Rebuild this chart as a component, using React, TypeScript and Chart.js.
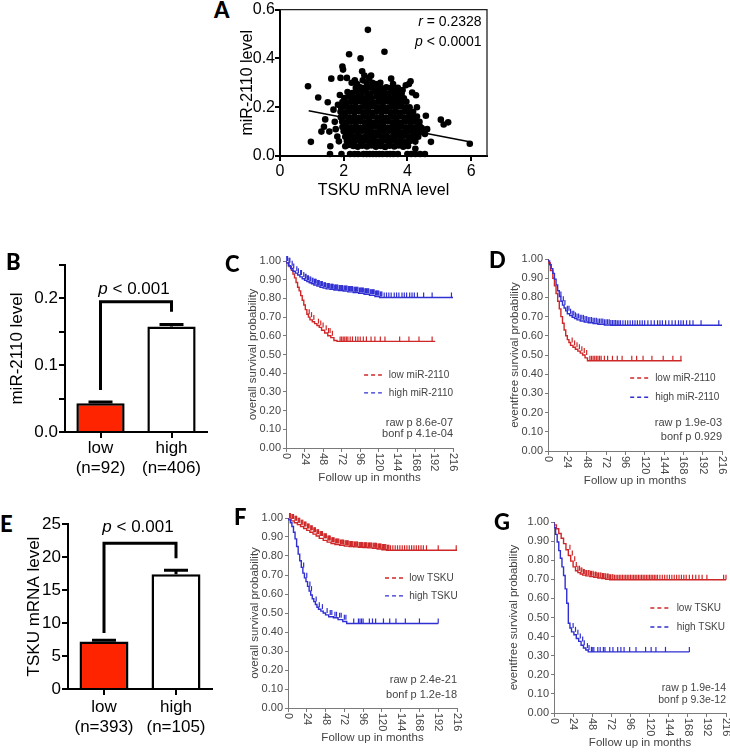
import React, { useEffect, useRef } from 'react';
import { Chart, registerables } from 'chart.js';
Chart.register(...registerables);

const FONT = '"Liberation Sans", Arial, sans-serif';
const LETTER_FONT = 'Lato, "Open Sans", sans-serif';

// ---------------- Panel A data ----------------
const scatterPts: [number, number][] = [
  [2.38,0.279],[2.52,0.282],[2.66,0.278],[2.8,0.283],[2.93,0.279],[3.07,0.281],[3.2,0.277],[3.34,0.282],[3.48,0.278],[3.6,0.272],
  [2.12,0.262],[2.27,0.258],[2.41,0.263],[2.55,0.259],[2.7,0.262],[2.84,0.257],[2.98,0.263],[3.12,0.259],[3.27,0.261],[3.41,0.257],[3.55,0.262],[3.7,0.258],[3.82,0.255],
  [2.02,0.238],[2.16,0.243],[2.3,0.239],[2.45,0.242],[2.6,0.237],[2.74,0.241],[2.88,0.238],[3.03,0.243],[3.17,0.239],[3.31,0.241],[3.46,0.237],[3.6,0.242],[3.75,0.238],[3.89,0.236],
  [1.96,0.221],[2.1,0.218],[2.24,0.222],[2.38,0.219],[2.53,0.223],[2.67,0.218],[2.81,0.221],[2.96,0.217],[3.1,0.222],[3.24,0.219],[3.39,0.223],[3.53,0.218],[3.67,0.221],[3.82,0.217],[3.97,0.222],
  [1.92,0.199],[2.06,0.202],[2.2,0.198],[2.35,0.201],[2.49,0.197],[2.63,0.202],[2.78,0.199],[2.92,0.203],[3.06,0.198],[3.21,0.201],[3.35,0.197],[3.49,0.202],[3.64,0.199],[3.78,0.203],[3.93,0.198],[4.07,0.2],
  [1.9,0.181],[2.04,0.178],[2.18,0.182],[2.33,0.179],[2.47,0.183],[2.61,0.178],[2.75,0.181],[2.9,0.177],[3.04,0.182],[3.18,0.179],[3.33,0.183],[3.47,0.178],[3.61,0.181],[3.76,0.177],[3.9,0.182],[4.04,0.179],[4.18,0.181],
  [1.91,0.159],[2.05,0.162],[2.19,0.158],[2.34,0.161],[2.48,0.157],[2.62,0.162],[2.77,0.159],[2.91,0.163],[3.05,0.158],[3.2,0.161],[3.34,0.157],[3.48,0.162],[3.63,0.159],[3.77,0.163],[3.91,0.158],[4.06,0.161],[4.2,0.157],[4.3,0.162],
  [1.95,0.141],[2.09,0.138],[2.23,0.142],[2.38,0.139],[2.52,0.143],[2.66,0.138],[2.81,0.141],[2.95,0.137],[3.09,0.142],[3.24,0.139],[3.38,0.143],[3.52,0.138],[3.67,0.141],[3.81,0.137],[3.95,0.142],[4.1,0.139],[4.24,0.141],[4.35,0.137],
  [1.96,0.119],[2.1,0.122],[2.25,0.118],[2.39,0.121],[2.53,0.117],[2.68,0.122],[2.82,0.119],[2.96,0.123],[3.11,0.118],[3.25,0.121],[3.39,0.117],[3.54,0.122],[3.68,0.119],[3.82,0.123],[3.97,0.118],[4.11,0.121],[4.25,0.117],[4.39,0.122],
  [2.0,0.101],[2.14,0.098],[2.28,0.102],[2.43,0.099],[2.57,0.103],[2.71,0.098],[2.86,0.101],[3.0,0.097],[3.14,0.102],[3.29,0.099],[3.43,0.103],[3.57,0.098],[3.72,0.101],[3.86,0.097],[4.0,0.102],[4.15,0.099],[4.29,0.101],[4.44,0.098],
  [2.05,0.079],[2.19,0.082],[2.33,0.078],[2.48,0.081],[2.62,0.077],[2.76,0.082],[2.91,0.079],[3.05,0.083],[3.19,0.078],[3.34,0.081],[3.48,0.077],[3.62,0.082],[3.77,0.079],[3.91,0.083],[4.05,0.078],[4.2,0.081],[4.34,0.079],
  [2.1,0.061],[2.24,0.058],[2.38,0.062],[2.53,0.059],[2.67,0.063],[2.81,0.058],[2.96,0.061],[3.1,0.057],[3.24,0.062],[3.39,0.059],[3.53,0.063],[3.67,0.058],[3.82,0.061],[3.96,0.057],[4.1,0.062],[4.25,0.059],
  [2.3,0.041],[2.44,0.038],[2.58,0.042],[2.73,0.039],[2.87,0.043],[3.01,0.038],[3.16,0.041],[3.3,0.037],[3.44,0.042],[3.59,0.039],[3.73,0.043],[3.87,0.038],[4.02,0.041],
  [1.57,0.008],[1.93,0.008],[2.2,0.008],[2.34,0.008],[2.45,0.008],[2.62,0.008],[2.72,0.008],[2.82,0.008],[2.92,0.008],[3.02,0.008],[3.12,0.008],[3.22,0.008],[3.36,0.008],[3.46,0.008],[3.56,0.008],[3.7,0.008],[4.0,0.008],[4.12,0.008],[4.25,0.008],[4.4,0.008],[4.55,0.008],
  [0.88,0.286],[0.97,0.058],[1.2,0.24],[1.3,0.1],[1.38,0.12],[1.42,0.15],[1.5,0.22],[1.55,0.1],[1.58,0.04],[1.61,0.317],[1.68,0.19],[1.72,0.14],[1.75,0.11],[1.8,0.08],[1.82,0.21],[1.85,0.06],[1.88,0.25],[1.9,0.32],[1.96,0.367],[1.98,0.354],[2.1,0.32],[2.17,0.417],[2.25,0.3],[2.35,0.31],[2.42,0.295],[2.53,0.40],[2.58,0.347],[2.6,0.31],[2.65,0.33],[2.72,0.30],[2.76,0.517],[2.8,0.32],[2.86,0.33],[2.9,0.30],[3.0,0.295],[3.15,0.3],[3.28,0.427],[3.49,0.317],[3.55,0.295],[3.7,0.28],[3.85,0.27],[3.95,0.29],[4.05,0.295],[4.1,0.306],[4.15,0.26],[4.27,0.249],[4.3,0.2],[4.38,0.14],[4.45,0.115],[4.58,0.165],[4.55,0.09],[4.74,0.058],[4.62,0.11],[4.25,0.03],[5.05,0.149],[5.14,0.129],[5.28,0.138],[5.96,0.05],[2.15,0.045],[2.05,0.04]
];
const regLine: [number, number][] = [[0.9, 0.185], [5.95, 0.058]];
const aYTickLabels = ['0.0', '0.2', '0.4', '0.6'];
const aXTickLabels = ['0', '2', '4', '6'];
const aStats = { r: '0.2328', p: '0.0001' };

// ---------------- Panel B / E data ----------------
const bCategories = [['low', '(n=92)'], ['high', '(n=406)']];
const bMeans = [0.043, 0.158];
const bErrors = [0.002, 0.003];
const bYTickLabels = ['0.0', '0.1', '0.2'];
const bBracket = { top: 0.195, leftEnd: 0.063, rightEnd: 0.18, textY: 0.213 };

const eCategories = [['low', '(n=393)'], ['high', '(n=105)']];
const eMeans = [7.2, 17.4];
const eErrors = [0.2, 0.6];
const eYTickLabels = ['0', '5', '10', '15', '20', '25'];
const eBracket = { top: 22.1, leftEnd: 8.5, rightEnd: 19.8, textY: 24.5 };
const pLabel = '0.001';

// ---------------- Kaplan-Meier data ----------------
const kmXTickLabels = ['0', '24', '48', '72', '96', '120', '144', '168', '192', '216'];
const kmYTickLabels = ['0.00', '0.10', '0.20', '0.30', '0.40', '0.50', '0.60', '0.70', '0.80', '0.90', '1.00'];

// C: overall survival, miR-2110
const cLowT = [0, 4, 7, 9, 11, 13, 15, 17, 19, 21, 23, 25, 27, 29, 31, 34, 37, 40, 43, 46, 50, 54, 58, 62, 66, 68, 193];
const cLowS = [1.0, 0.99, 0.97, 0.95, 0.93, 0.91, 0.885, 0.86, 0.84, 0.815, 0.79, 0.765, 0.74, 0.715, 0.7, 0.685, 0.675, 0.665, 0.655, 0.645, 0.63, 0.615, 0.6, 0.59, 0.575, 0.57, 0.57];
const cLowCens = [30, 33, 36, 42, 45, 48, 52, 55, 57, 60, 70, 72, 74, 76, 78, 80, 83, 86, 90, 93, 96, 100, 104, 110, 115, 122, 128, 147, 159, 172, 189];
const cHighT = [0, 3, 6, 9, 12, 15, 18, 21, 24, 27, 30, 33, 36, 40, 44, 48, 52, 57, 62, 68, 74, 80, 87, 94, 101, 108, 115, 121, 126, 216];
const cHighS = [1.0, 0.99, 0.975, 0.96, 0.945, 0.935, 0.925, 0.915, 0.905, 0.897, 0.89, 0.884, 0.878, 0.872, 0.866, 0.86, 0.855, 0.851, 0.848, 0.845, 0.842, 0.839, 0.835, 0.831, 0.827, 0.822, 0.816, 0.81, 0.805, 0.805];
const cHighCens = [1, 2, 4, 5, 8, 10, 14, 16, 19, 20, 23, 25, 26, 28, 29, 31, 32, 34, 35, 37, 38, 39, 41, 42, 43, 45, 46, 47, 49, 50, 51, 53, 54, 55, 56, 58, 59, 60, 61, 63, 64, 65, 66, 67, 69, 70, 71, 72, 73, 75, 76, 77, 78, 79, 81, 82, 83, 84, 85, 86, 88, 89, 90, 91, 92, 93, 95, 96, 97, 98, 99, 100, 102, 103, 104, 105, 106, 107, 109, 110, 111, 112, 113, 114, 116, 117, 118, 119, 120, 122, 123, 124, 127, 130, 133, 136, 140, 143, 146, 150, 153, 156, 160, 163, 166, 170, 178, 189, 214];

// D: eventfree survival, miR-2110
const dLowT = [0, 3, 6, 8, 10, 12, 14, 16, 18, 20, 22, 24, 26, 28, 31, 34, 37, 40, 43, 46, 49, 51, 166];
const dLowS = [1.0, 0.98, 0.94, 0.9, 0.86, 0.82, 0.78, 0.74, 0.7, 0.665, 0.63, 0.6, 0.58, 0.565, 0.55, 0.54, 0.53, 0.52, 0.51, 0.5, 0.485, 0.47, 0.47];
const dLowCens = [30, 33, 36, 39, 42, 45, 48, 52, 54, 56, 58, 60, 62, 64, 66, 70, 74, 80, 86, 92, 104, 110, 118, 129, 143, 155, 165];
const dHighT = [0, 2, 4, 6, 8, 10, 12, 14, 16, 18, 20, 22, 24, 27, 30, 33, 36, 40, 45, 50, 56, 62, 70, 78, 85, 216];
const dHighS = [1.0, 0.99, 0.97, 0.95, 0.925, 0.895, 0.865, 0.835, 0.805, 0.78, 0.76, 0.745, 0.73, 0.715, 0.705, 0.697, 0.69, 0.683, 0.677, 0.672, 0.668, 0.664, 0.66, 0.656, 0.655, 0.655];
const dHighCens = [16, 19, 21, 24, 26, 28, 30, 32, 34, 36, 38, 40, 42, 44, 46, 48, 50, 52, 54, 56, 58, 60, 62, 64, 66, 68, 70, 72, 74, 76, 78, 80, 82, 84, 86, 88, 90, 93, 96, 99, 102, 105, 108, 111, 114, 117, 120, 124, 128, 132, 136, 139, 142, 146, 150, 154, 158, 162, 165, 168, 172, 176, 180, 190, 212];

// F: overall survival, TSKU
const fLowT = [0, 4, 8, 12, 16, 20, 24, 28, 32, 36, 40, 45, 50, 55, 60, 66, 72, 78, 84, 90, 96, 102, 108, 114, 120, 126, 130, 216];
const fLowS = [1.0, 0.995, 0.985, 0.975, 0.965, 0.955, 0.945, 0.935, 0.925, 0.915, 0.905, 0.893, 0.882, 0.873, 0.866, 0.86, 0.856, 0.852, 0.85, 0.848, 0.846, 0.845, 0.843, 0.84, 0.837, 0.833, 0.83, 0.83];
const fLowCens = [2, 3, 5, 6, 7, 9, 10, 11, 13, 14, 15, 17, 18, 19, 21, 22, 23, 25, 26, 27, 29, 30, 31, 33, 34, 35, 37, 38, 39, 41, 42, 43, 44, 46, 47, 48, 49, 51, 52, 53, 54, 56, 57, 58, 59, 61, 62, 63, 64, 65, 67, 68, 69, 70, 71, 73, 74, 75, 76, 77, 79, 80, 81, 82, 83, 85, 86, 87, 88, 89, 91, 92, 93, 94, 95, 97, 98, 99, 100, 101, 103, 104, 105, 106, 107, 109, 110, 111, 112, 113, 115, 116, 117, 118, 119, 121, 122, 123, 124, 125, 127, 128, 129, 131, 134, 137, 140, 143, 146, 149, 152, 155, 158, 161, 164, 167, 170, 173, 177, 192, 215];
const fHighT = [0, 3, 5, 7, 9, 11, 13, 15, 17, 19, 21, 23, 25, 27, 29, 31, 33, 35, 37, 39, 42, 45, 48, 52, 58, 64, 70, 75, 79, 192];
const fHighS = [1.0, 0.99, 0.975, 0.955, 0.925, 0.89, 0.85, 0.81, 0.775, 0.74, 0.71, 0.685, 0.665, 0.64, 0.615, 0.595, 0.575, 0.56, 0.545, 0.53, 0.52, 0.51, 0.5, 0.49, 0.48, 0.475, 0.465, 0.455, 0.445, 0.445];
const fHighCens = [20, 24, 28, 30, 36, 40, 44, 50, 54, 56, 60, 62, 66, 68, 72, 74, 84, 90, 92, 94, 96, 104, 108, 112, 122, 130, 138, 150, 168, 192];

// G: eventfree survival, TSKU
const gLowT = [0, 3, 6, 9, 12, 15, 18, 21, 24, 27, 30, 33, 36, 40, 45, 50, 55, 60, 65, 70, 75, 216];
const gLowS = [1.0, 0.985, 0.965, 0.94, 0.915, 0.887, 0.855, 0.825, 0.795, 0.765, 0.745, 0.735, 0.728, 0.722, 0.718, 0.714, 0.71, 0.707, 0.704, 0.7, 0.698, 0.698];
const gLowCens = [20, 23, 26, 28, 30, 32, 34, 35, 37, 38, 40, 41, 43, 44, 46, 47, 49, 50, 52, 53, 55, 56, 58, 59, 61, 62, 64, 65, 67, 68, 70, 71, 73, 74, 76, 78, 80, 82, 84, 86, 88, 90, 92, 94, 96, 98, 100, 102, 104, 106, 108, 110, 112, 114, 116, 118, 120, 122, 124, 126, 128, 130, 133, 136, 139, 142, 145, 148, 151, 154, 157, 160, 163, 166, 170, 174, 178, 182, 186, 192, 213, 216];
const gHighT = [0, 2, 4, 6, 8, 10, 12, 14, 16, 18, 20, 22, 25, 28, 31, 34, 37, 40, 43, 46, 170];
const gHighS = [1.0, 0.97, 0.935, 0.895, 0.85, 0.81, 0.765, 0.72, 0.65, 0.575, 0.47, 0.445, 0.425, 0.41, 0.39, 0.375, 0.355, 0.34, 0.33, 0.32, 0.32];
const gHighCens = [24, 27, 30, 33, 36, 38, 42, 44, 47, 48, 50, 55, 58, 62, 64, 70, 74, 80, 84, 88, 95, 103, 115, 122, 128, 140, 170];

const RED = '#cf2727';
const BLUE = '#2f2fd2';
const BAR_RED = '#ff2400';
const KM_TEXT = '#444';
const KM_AXIS = '#7a7a7a';

const survAt = (ts: number[], ss: number[], t: number) => {
  let v = ss[0];
  for (let i = 0; i < ts.length; i++) {
    if (ts[i] <= t) v = ss[i];
    else break;
  }
  return v;
};

function drawMixed(ctx: CanvasRenderingContext2D, parts: [string, boolean][], x: number, y: number, size: number, align: 'center' | 'right') {
  const widths = parts.map(([t, it]) => {
    ctx.font = `${it ? 'italic ' : ''}${size}px ${FONT}`;
    return ctx.measureText(t).width;
  });
  const total = widths.reduce((a, b) => a + b, 0);
  let cx = align === 'center' ? x - total / 2 : x - total;
  ctx.textAlign = 'left';
  ctx.textBaseline = 'middle';
  parts.forEach(([t, it], i) => {
    ctx.font = `${it ? 'italic ' : ''}${size}px ${FONT}`;
    ctx.fillText(t, cx, y);
    cx += widths[i];
  });
}

function makeScatter(canvas: HTMLCanvasElement) {
  const boxPlugin = {
    id: 'aBox',
    afterDraw(chart: any) {
      const { ctx, chartArea: ca, scales } = chart;
      ctx.save();
      ctx.strokeStyle = '#222';
      ctx.lineWidth = 1.3;
      ctx.beginPath();
      ctx.moveTo(ca.left, ca.top);
      ctx.lineTo(ca.right, ca.top);
      ctx.lineTo(ca.right, ca.bottom);
      ctx.stroke();
      ctx.fillStyle = '#000';
      const xr = scales.x.getPixelForValue(6.33);
      drawMixed(ctx, [['r', true], [' = ' + aStats.r, false]], xr, scales.y.getPixelForValue(0.548), 14, 'right');
      drawMixed(ctx, [['p', true], [' < ' + aStats.p, false]], xr, scales.y.getPixelForValue(0.467), 14, 'right');
      ctx.restore();
    },
  };
  return new Chart(canvas, {
    type: 'scatter',
    data: {
      datasets: [
        {
          data: regLine.map(([x, y]) => ({ x, y })),
          showLine: true,
          borderColor: '#000',
          borderWidth: 1.5,
          pointRadius: 0,
          order: 0,
        },
        {
          data: scatterPts.map(([x, y]) => ({ x, y })),
          pointRadius: 3.3,
          pointBackgroundColor: '#000',
          pointBorderWidth: 0,
          clip: false as any,
          order: 1,
        },
      ],
    },
    options: {
      animation: false,
      responsive: false,
      layout: { autoPadding: false, padding: { top: 7, right: 5, left: 0, bottom: 0 } },
      plugins: { legend: { display: false }, tooltip: { enabled: false } },
      scales: {
        x: {
          type: 'linear', min: 0, max: 6.5,
          afterFit: (s: any) => { s.height = 44; },
          ticks: { stepSize: 2, includeBounds: false, padding: 1, color: '#000', font: { family: FONT, size: 16 },
            callback: (v: any, i: number) => aXTickLabels[i] },
          grid: { display: true, drawOnChartArea: false, drawTicks: true, tickLength: 5, color: '#000', lineWidth: 2 },
          border: { display: true, color: '#000', width: 2 },
          title: { display: true, text: 'TSKU mRNA level', color: '#000', font: { family: FONT, size: 16 }, padding: 0 },
        },
        y: {
          type: 'linear', min: 0, max: 0.6,
          afterFit: (s: any) => { s.width = 42; },
          ticks: { stepSize: 0.2, padding: 0, color: '#000', font: { family: FONT, size: 16 },
            callback: (v: any, i: number) => aYTickLabels[i] },
          grid: { display: true, drawOnChartArea: false, drawTicks: true, tickLength: 5, color: '#000', lineWidth: 2 },
          border: { display: true, color: '#000', width: 2 },
          title: { display: true, text: 'miR-2110 level', color: '#000', font: { family: FONT, size: 16 }, padding: 0 },
        },
      },
    } as any,
    plugins: [boxPlugin],
  });
}

function makeBar(canvas: HTMLCanvasElement, cfg: any) {
  const annot = {
    id: 'barAnnot',
    afterDatasetsDraw(chart: any) {
      const { ctx, scales } = chart;
      const meta = chart.getDatasetMeta(0);
      const y = scales.y;
      ctx.save();
      ctx.strokeStyle = '#000';
      ctx.lineWidth = 3;
      ctx.lineCap = 'butt';
      cfg.means.forEach((m: number, i: number) => {
        const x = meta.data[i].x;
        const y0 = y.getPixelForValue(m);
        const y1 = y.getPixelForValue(m + cfg.errors[i]);
        ctx.beginPath();
        ctx.moveTo(x, y0);
        ctx.lineTo(x, y1);
        ctx.moveTo(x - 12, y1);
        ctx.lineTo(x + 12, y1);
        ctx.stroke();
      });
      const xl = meta.data[0].x;
      const xr = meta.data[1].x;
      const yt = y.getPixelForValue(cfg.bracket.top);
      ctx.beginPath();
      ctx.moveTo(xl, y.getPixelForValue(cfg.bracket.leftEnd));
      ctx.lineTo(xl, yt);
      ctx.lineTo(xr, yt);
      ctx.lineTo(xr, y.getPixelForValue(cfg.bracket.rightEnd));
      ctx.stroke();
      ctx.fillStyle = '#000';
      drawMixed(ctx, [['p', true], [' < ' + pLabel, false]], (xl + xr) / 2 - 2, y.getPixelForValue(cfg.bracket.textY), 17, 'center');
      ctx.restore();
    },
  };
  return new Chart(canvas, {
    type: 'bar',
    data: {
      labels: cfg.categories,
      datasets: [{
        data: cfg.means,
        backgroundColor: [BAR_RED, '#ffffff'],
        borderColor: '#000',
        borderWidth: 2.5,
        borderSkipped: 'bottom',
        categoryPercentage: 1,
        barPercentage: 0.68,
      }],
    },
    options: {
      animation: false,
      responsive: false,
      layout: { autoPadding: false, padding: { top: 12, right: 5, left: 0, bottom: 0 } },
      plugins: { legend: { display: false }, tooltip: { enabled: false } },
      scales: {
        x: {
          afterFit: (s: any) => { s.height = cfg.xHeight; },
          ticks: { padding: cfg.xPad, color: '#000', font: { family: FONT, size: 17 } },
          grid: { display: true, offset: false, drawOnChartArea: false, drawTicks: true, tickLength: 6, color: '#000', lineWidth: 2 },
          border: { display: true, color: '#000', width: 2 },
        },
        y: {
          min: 0, max: cfg.max,
          afterFit: (s: any) => { s.width = cfg.yWidth; },
          ticks: {
            stepSize: cfg.step, padding: 1, color: '#000', font: { family: FONT, size: 17 },
            callback: (v: any) => {
              const lbl = cfg.yLabels.find((l: string) => Math.abs(parseFloat(l) - Number(v)) < 1e-6);
              return lbl === undefined ? '' : lbl;
            },
          },
          grid: { display: true, drawOnChartArea: false, drawTicks: true, tickLength: 6, color: '#000', lineWidth: 2 },
          border: { display: true, color: '#000', width: 2 },
          title: { display: true, text: cfg.yTitle, color: '#000', font: { family: FONT, size: 17 }, padding: 0 },
        },
      },
    } as any,
    plugins: [annot],
  });
}

function makeKM(canvas: HTMLCanvasElement, cfg: any) {
  const kmText = {
    id: 'kmText',
    afterDraw(chart: any) {
      const { ctx, chartArea: ca, scales } = chart;
      const { x, y } = scales;
      ctx.save();
      ctx.fillStyle = KM_TEXT;
      ctx.font = `11px ${FONT}`;
      x.ticks.forEach((tk: any, i: number) => {
        const px = x.getPixelForValue(tk.value);
        ctx.save();
        ctx.translate(px, ca.bottom + 5);
        ctx.rotate(Math.PI / 2);
        ctx.textAlign = 'left';
        ctx.textBaseline = 'middle';
        ctx.fillText(kmXTickLabels[i], 0, 0);
        ctx.restore();
      });
      // legend
      const lg = cfg.legend;
      ctx.lineWidth = 1.4;
      ctx.setLineDash([4, 3]);
      [[lg.lowY, RED, cfg.lowLabel], [lg.highY, BLUE, cfg.highLabel]].forEach(([yy, col, lbl]: any) => {
        const py = y.getPixelForValue(yy);
        ctx.strokeStyle = col;
        ctx.beginPath();
        ctx.moveTo(x.getPixelForValue(lg.dash[0]), py);
        ctx.lineTo(x.getPixelForValue(lg.dash[1]), py);
        ctx.stroke();
        ctx.fillStyle = KM_TEXT;
        ctx.textAlign = 'left';
        ctx.textBaseline = 'middle';
        ctx.font = `10px ${FONT}`;
        ctx.fillText(lbl, x.getPixelForValue(lg.textX), py);
      });
      ctx.setLineDash([]);
      ctx.textAlign = 'right';
      ctx.textBaseline = 'middle';
      ctx.fillStyle = KM_TEXT;
      ctx.font = `${cfg.pSize}px ${FONT}`;
      ctx.fillText(cfg.pTexts[0], ca.right, y.getPixelForValue(cfg.pY[0]));
      ctx.fillText(cfg.pTexts[1], ca.right, y.getPixelForValue(cfg.pY[1]));
      ctx.restore();
    },
  };
  const curve = (ts: number[], ss: number[], col: string) => ({
    data: ts.map((t, i) => ({ x: t, y: ss[i] })),
    borderColor: col,
    borderWidth: 1.4,
    stepped: 'after',
    pointRadius: 0,
    fill: false,
  });
  const cens = (ts: number[], ss: number[], c: number[], col: string) => ({
    data: c.map((t) => ({ x: t, y: survAt(ts, ss, t) })),
    showLine: false,
    pointStyle: 'dash',
    pointRotation: -90,
    pointRadius: 5,
    pointBorderColor: col,
    pointBorderWidth: 1.2,
    pointBackgroundColor: col,
    clip: false,
  });
  return new Chart(canvas, {
    type: 'line',
    data: {
      datasets: [
        curve(cfg.highT, cfg.highS, BLUE),
        cens(cfg.highT, cfg.highS, cfg.highCens, BLUE),
        curve(cfg.lowT, cfg.lowS, RED),
        cens(cfg.lowT, cfg.lowS, cfg.lowCens, RED),
      ] as any,
    },
    options: {
      animation: false,
      responsive: false,
      layout: { autoPadding: false, padding: { top: 10, right: cfg.padRight, left: 0, bottom: 0 } },
      plugins: { legend: { display: false }, tooltip: { enabled: false } },
      scales: {
        x: {
          type: 'linear', min: 0, max: 216,
          afterFit: (s: any) => { s.height = 37; },
          ticks: { display: false, stepSize: 24 },
          grid: { display: true, drawOnChartArea: false, drawTicks: true, tickLength: 4, color: KM_AXIS, lineWidth: 1 },
          border: { display: true, color: KM_AXIS, width: 1 },
          title: { display: true, text: 'Follow up in months', color: KM_TEXT, font: { family: FONT, size: 11.5 }, padding: 0 },
        },
        y: {
          type: 'linear', min: 0, max: 1,
          afterFit: (s: any) => { s.width = cfg.yWidth; },
          ticks: { stepSize: 0.1, padding: 2, color: KM_TEXT, font: { family: FONT, size: 11 },
            callback: (v: any, i: number) => kmYTickLabels[i] },
          grid: { display: true, drawOnChartArea: false, drawTicks: true, tickLength: 3, color: KM_AXIS, lineWidth: 1 },
          border: { display: true, color: KM_AXIS, width: 1 },
          title: { display: true, text: cfg.yTitle, color: KM_TEXT, font: { family: FONT, size: 11.5 }, padding: 0 },
        },
      },
    } as any,
    plugins: [kmText],
  });
}

const pos = (l: number, t: number, w: number, h: number) => ({ left: l, top: t, width: w, height: h });
const LAYOUT = {
  A: pos(238, 0, 254, 200),
  B: pos(7, 253, 205, 232),
  E: pos(24, 512, 193, 233),
  C: pos(246, 251, 215, 234),
  D: pos(508, 249, 222, 239),
  F: pos(248, 508, 217, 237),
  G: pos(507, 512, 223, 238),
};

const LETTERS: [string, number, number][] = [
  ['A', 214, -1], ['B', 6, 251], ['C', 225, 253], ['D', 489, 249], ['E', 0, 513], ['F', 234, 506], ['G', 494, 511],
];

export default function App() {
  const refs = {
    A: useRef<HTMLCanvasElement>(null), B: useRef<HTMLCanvasElement>(null), E: useRef<HTMLCanvasElement>(null),
    C: useRef<HTMLCanvasElement>(null), D: useRef<HTMLCanvasElement>(null), F: useRef<HTMLCanvasElement>(null),
    G: useRef<HTMLCanvasElement>(null),
  };
  useEffect(() => {
    const charts: Chart[] = [];
    charts.push(makeScatter(refs.A.current!));
    charts.push(makeBar(refs.B.current!, {
      categories: bCategories, means: bMeans, errors: bErrors, bracket: bBracket, yLabels: bYTickLabels,
      max: 0.25, step: 0.05, yTitle: 'miR-2110 level', yWidth: 58, xHeight: 53, xPad: 0,
    }));
    charts.push(makeBar(refs.E.current!, {
      categories: eCategories, means: eMeans, errors: eErrors, bracket: eBracket, yLabels: eYTickLabels,
      max: 25, step: 5, yTitle: 'TSKU mRNA level', yWidth: 44, xHeight: 56, xPad: 2,
    }));
    charts.push(makeKM(refs.C.current!, {
      lowT: cLowT, lowS: cLowS, lowCens: cLowCens, highT: cHighT, highS: cHighS, highCens: cHighCens,
      lowLabel: 'low miR-2110', highLabel: 'high miR-2110', yTitle: 'overall survival probability',
      legend: { dash: [101, 124], textX: 133, lowY: 0.39, highY: 0.295 },
      pTexts: ['raw p 8.6e-07', 'bonf p 4.1e-04'], pY: [0.134, 0.075], pSize: 11, yWidth: 40, padRight: 8,
    }));
    charts.push(makeKM(refs.D.current!, {
      lowT: dLowT, lowS: dLowS, lowCens: dLowCens, highT: dHighT, highS: dHighS, highCens: dHighCens,
      lowLabel: 'low miR-2110', highLabel: 'high miR-2110', yTitle: 'eventfree survival probability',
      legend: { dash: [102, 127], textX: 133, lowY: 0.38, highY: 0.28 },
      pTexts: ['raw p 1.9e-03', 'bonf p 0.929'], pY: [0.146, 0.073], pSize: 11, yWidth: 40, padRight: 8,
    }));
    charts.push(makeKM(refs.F.current!, {
      lowT: fLowT, lowS: fLowS, lowCens: fLowCens, highT: fHighT, highS: fHighS, highCens: fHighCens,
      lowLabel: 'low TSKU', highLabel: 'high TSKU', yTitle: 'overall survival probability',
      legend: { dash: [124, 150], textX: 155, lowY: 0.684, highY: 0.59 },
      pTexts: ['raw p 2.4e-21', 'bonf p 1.2e-18'], pY: [0.147, 0.068], pSize: 11, yWidth: 40, padRight: 8,
    }));
    charts.push(makeKM(refs.G.current!, {
      lowT: gLowT, lowS: gLowS, lowCens: gLowCens, highT: gHighT, highS: gHighS, highCens: gHighCens,
      lowLabel: 'low TSKU', highLabel: 'high TSKU', yTitle: 'eventfree survival probability',
      legend: { dash: [121, 147], textX: 154, lowY: 0.55, highY: 0.45 },
      pTexts: ['raw p 1.9e-14', 'bonf p 9.3e-12'], pY: [0.131, 0.068], pSize: 10.5, yWidth: 47, padRight: 4,
    }));
    return () => charts.forEach((c) => c.destroy());
  }, []);

  return (
    <div style={{ position: 'fixed', left: 0, top: 0, width: 730, height: 752, background: '#fff', overflow: 'hidden' }}>
      {(Object.keys(LAYOUT) as (keyof typeof LAYOUT)[]).map((k) => {
        const p = LAYOUT[k];
        return (
          <canvas
            key={k}
            ref={refs[k]}
            width={p.width}
            height={p.height}
            style={{ position: 'absolute', left: p.left, top: p.top, width: p.width, height: p.height }}
          />
        );
      })}
      {LETTERS.map(([l, x, y]) => (
        <div key={l} style={{ position: 'absolute', left: x, top: y, fontFamily: LETTER_FONT, fontWeight: 900, fontSize: 22, lineHeight: '22px', color: '#000' }}>{l}</div>
      ))}
    </div>
  );
}
